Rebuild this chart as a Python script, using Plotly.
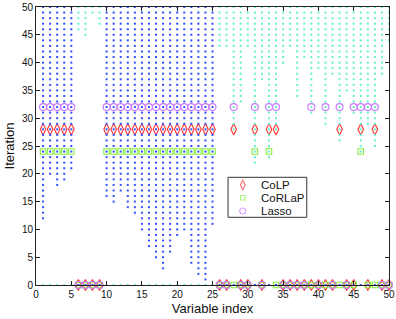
import plotly.graph_objects as go

# ---- data ----
max_iter = 50
# variables whose path is drawn in blue and the first iteration at which they appear
blue_vars = [1, 2, 3, 4, 5, 10, 11, 12, 13, 14, 15, 16, 17, 18, 19, 20, 21, 22, 23, 24, 25]
blue_start = [12, 20, 18, 19, 21, 16, 15, 17, 14, 13, 10, 7, 5, 3, 6, 9, 10, 4, 2, 1, 11]
# variables drawn in cyan and their first iteration
cyan_vars = [6, 7, 8, 9] + list(range(26, 51))
cyan_start = [46, 45, 49, 47,
              43, 43, 28, 33, 43, 22, 37, 23, 28, 40, 43, 34, 41, 31, 39, 29,
              38, 26, 35, 31, 24, 29, 25, 38, 44]

# selected (non-zero) variables per method, shown at a fixed iteration level
colp_level, corlap_level, lasso_level = 28, 24, 32
colp_sel = [1, 2, 3, 4, 5, 10, 11, 12, 13, 14, 15, 16, 17, 18, 19, 20, 21, 22, 23, 24, 25,
            28, 31, 33, 34, 43, 46, 48]
corlap_sel = [1, 2, 3, 4, 5, 10, 11, 12, 13, 14, 15, 16, 17, 18, 19, 20, 21, 22, 23, 24, 25,
              31, 33, 46]
lasso_sel = [1, 2, 3, 4, 5, 10, 11, 12, 13, 14, 15, 16, 17, 18, 19, 20, 21, 22, 23, 24, 25,
             28, 31, 33, 34, 39, 41, 43, 45, 46, 47, 48]
# variables set to zero per method (shown at iteration 0)
colp_zero = [6, 7, 8, 9, 26, 27, 29, 30, 32, 35, 36, 37, 38, 39, 40, 41, 42, 44, 45, 47, 49, 50]
corlap_zero = [6, 7, 8, 9, 26, 27, 28, 29, 30, 32, 34, 35, 36, 37, 38, 39, 40, 41, 42, 43,
               44, 45, 47, 48, 49, 50]
lasso_zero = [6, 7, 8, 9, 26, 27, 29, 30, 32, 35, 36, 37, 38, 40, 42, 44, 49, 50]

method_names = ['CoLP', 'CoRLaP', 'Lasso']

x_ticks = [0, 5, 10, 15, 20, 25, 30, 35, 40, 45, 50]
y_ticks = [0, 5, 10, 15, 20, 25, 30, 35, 40, 45, 50]

# ---- build dot series ----
bx, by = [], []
for v, s in zip(blue_vars, blue_start):
    for it in range(s, max_iter + 1):
        bx.append(v); by.append(it)
for v in cyan_vars:
    bx.append(v); by.append(0)

cx, cy = [], []
for v, s in zip(cyan_vars, cyan_start):
    for it in range(s, max_iter + 1):
        cx.append(v); cy.append(it)
for v in blue_vars:
    cx.append(v); cy.append(0)

BLUE = 'rgb(50,80,255)'
CYAN = 'rgb(100,240,205)'
RED = 'rgb(255,50,50)'
GREEN = 'rgb(130,240,60)'
PURPLE = 'rgb(200,120,255)'
FONT = 'Liberation Sans, Arial, Helvetica'

styles = {
    'CoLP': dict(symbol='diamond-tall-open', size=8, color=RED),
    'CoRLaP': dict(symbol='square-open', size=5.5, color=GREEN),
    'Lasso': dict(symbol='circle-open', size=7, color=PURPLE),
}

fig = go.Figure()

def method(name, sel, level, zero):
    st = styles[name]
    xs = sel + zero
    ys = [level] * len(sel) + [0] * len(zero)
    fig.add_trace(go.Scatter(x=xs, y=ys, mode='markers', name=name, showlegend=False,
                             cliponaxis=False,
                             marker=dict(symbol=st['symbol'], size=st['size'], color=st['color'],
                                         line=dict(color=st['color'], width=1.1))))

method('CoLP', colp_sel, colp_level, colp_zero)
method('CoRLaP', corlap_sel, corlap_level, corlap_zero)
method('Lasso', lasso_sel, lasso_level, lasso_zero)

fig.add_trace(go.Scatter(x=cx, y=cy, mode='markers', showlegend=False, cliponaxis=False,
                         marker=dict(symbol='square', size=2.0, color=CYAN, line=dict(width=0))))
fig.add_trace(go.Scatter(x=bx, y=by, mode='markers', showlegend=False, cliponaxis=False,
                         marker=dict(symbol='square', size=2.0, color=BLUE, line=dict(width=0))))

# ---- legend box drawn in paper space (MATLAB style) ----
leg_x0, leg_x1, leg_y0, leg_y1 = 0.544, 0.767, 0.2435, 0.3874
sym_x, txt_x = 0.5856, 0.632
row_y = [0.3597, 0.314, 0.266]
fig.add_shape(type='rect', xref='paper', yref='paper', x0=leg_x0, x1=leg_x1, y0=leg_y0, y1=leg_y1,
              line=dict(color='#333333', width=1), fillcolor='white', layer='below')
fig.add_trace(go.Scatter(x=[sym_x] * 3, y=row_y, xaxis='x2', yaxis='y2', mode='markers',
                         showlegend=False, hoverinfo='skip',
                         marker=dict(symbol=[styles[n]['symbol'] for n in method_names],
                                     size=[styles[n]['size'] - 1 for n in method_names],
                                     color=[styles[n]['color'] for n in method_names],
                                     line=dict(width=1.1))))
for n, yy in zip(method_names, row_y):
    fig.add_annotation(x=txt_x, y=yy, xref='paper', yref='paper', text=n, showarrow=False,
                       xanchor='left', yanchor='middle',
                       font=dict(family=FONT, size=11.5, color='#111111'))

axis_common = dict(showgrid=False, zeroline=False, showline=True, linecolor='#222222',
                   linewidth=1, mirror='ticks', ticks='inside', ticklen=4, tickcolor='#222222',
                   automargin=False,
                   tickfont=dict(family=FONT, size=10, color='#111111'))

fig.update_layout(
    width=396, height=319,
    margin=dict(l=36, r=7, t=7, b=34),
    paper_bgcolor='white', plot_bgcolor='white',
    showlegend=False,
    xaxis=dict(range=[0, 50], tickvals=x_ticks,
               title=dict(text='Variable index', standoff=4,
                          font=dict(family=FONT, size=13, color='#111111')),
               **axis_common),
    yaxis=dict(range=[0, 50], tickvals=y_ticks,
               title=dict(text='Iteration', standoff=4,
                          font=dict(family=FONT, size=13, color='#111111')),
               **axis_common),
    xaxis2=dict(range=[0, 1], overlaying='x', visible=False, fixedrange=True),
    yaxis2=dict(range=[0, 1], overlaying='y', visible=False, fixedrange=True),
)

fig.write_html('out.html', config={'displayModeBar': False},
               post_script="document.body.style.margin='0';document.body.style.padding='0';")
